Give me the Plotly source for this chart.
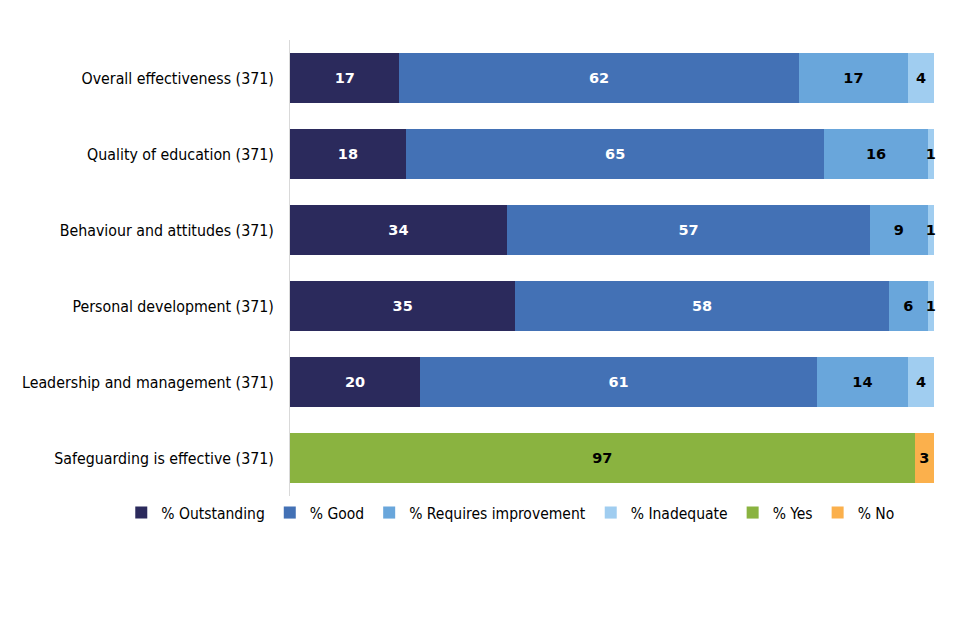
import plotly.graph_objects as go

categories = [
    "Overall effectiveness (371)",
    "Quality of education (371)",
    "Behaviour and attitudes (371)",
    "Personal development (371)",
    "Leadership and management (371)",
    "Safeguarding is effective (371)",
]
outstanding = [17, 18, 34, 35, 20, None]
good = [62, 65, 57, 58, 61, None]
requires_improvement = [17, 16, 9, 6, 14, None]
inadequate = [4, 1, 1, 1, 4, None]
yes = [None, None, None, None, None, 97]
no = [None, None, None, None, None, 3]

series = [
    ("% Outstanding", outstanding, "#2B2A5C", "white"),
    ("% Good", good, "#4371B5", "white"),
    ("% Requires improvement", requires_improvement, "#69A6DB", "black"),
    ("% Inadequate", inadequate, "#A0CDF0", "black"),
    ("% Yes", yes, "#8AB340", "black"),
    ("% No", no, "#FBB04C", "black"),
]

FONT = "DejaVu Sans Condensed"
BOLD_FONT = "DejaVu Sans"

fig = go.Figure()
for name, vals, color, tcolor in series:
    fig.add_trace(go.Bar(
        name=name,
        y=categories,
        x=vals,
        orientation="h",
        marker=dict(color=color, line=dict(width=0)),
        text=[("" if v is None else str(v)) for v in vals],
        textposition="inside",
        insidetextanchor="middle",
        textangle=0,
        textfont=dict(family=BOLD_FONT, size=14.5, color=tcolor, weight="bold"),
        cliponaxis=False,
    ))

fig.update_layout(
    barmode="stack",
    barnorm="percent",
    bargap=0.34,
    width=960,
    height=640,
    margin=dict(l=282, r=34, t=32, b=152),
    plot_bgcolor="white",
    paper_bgcolor="white",
    font=dict(family=FONT, size=15.8, color="black"),
    uniformtext=dict(minsize=14.5, mode="show"),
    showlegend=True,
    legend=dict(
        orientation="h",
        x=-0.262,
        xanchor="left",
        y=0,
        yanchor="top",
        bgcolor="rgba(0,0,0,0)",
        font=dict(family=FONT, size=15.5, color="black"),
        itemwidth=30,
        traceorder="normal",
    ),
    xaxis=dict(
        range=[0, 100.01],
        showticklabels=False,
        showgrid=False,
        zeroline=False,
        showline=False,
        ticks="",
        fixedrange=True,
    ),
    yaxis=dict(
        autorange="reversed",
        showline=True,
        linecolor="#D9D9D9",
        linewidth=1,
        showgrid=False,
        ticks="",
        ticklabelstandoff=12,
        tickfont=dict(family=FONT, size=15.8, color="black"),
    ),
)

fig.write_html("out.html")
